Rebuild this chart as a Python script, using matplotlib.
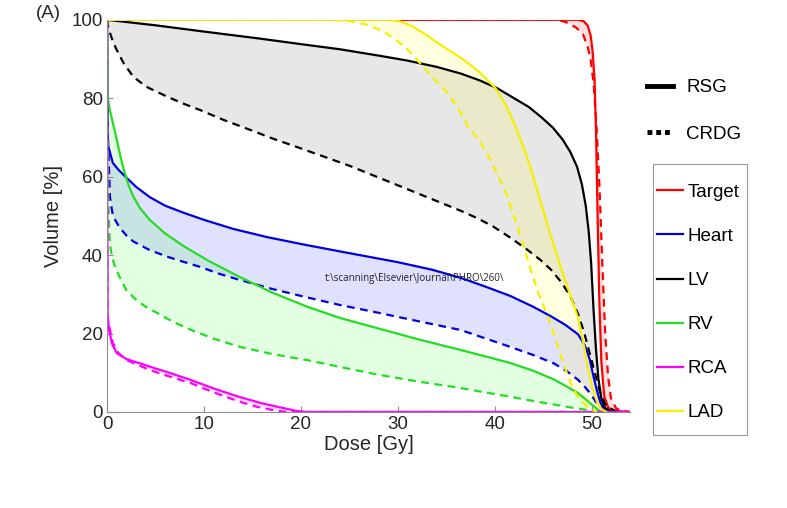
import matplotlib.pyplot as plt
from matplotlib.lines import Line2D
from matplotlib.patches import Rectangle
import numpy as np

plt.rcParams['font.family'] = ['Liberation Sans', 'DejaVu Sans']

# DVH data: dose [Gy], volume [%]
# solid = RSG, dashed = CRDG
target_d = [0, 48.6, 49.2, 49.6, 49.9, 50.1, 50.3, 50.45, 50.6, 50.8, 51, 51.3, 51.7, 52.2, 54]
target_v = [100, 100, 99.6, 98.5, 96, 92, 85, 72, 52, 28, 13, 4, 1.2, 0.3, 0]
target_d2 = [0, 46, 46.8, 47.6, 48.4, 49.1, 49.6, 49.9, 50.2, 50.5, 50.8, 51.1, 51.4, 51.7, 52, 52.5, 53, 54]
target_v2 = [100, 100, 99.8, 99.2, 98, 96.4, 93, 89.8, 84, 73, 58, 38, 20, 9, 3.5, 1, 0.3, 0]

heart_d = [0, 0.05, 0.1, 0.6, 1.2, 1.9, 3, 4.4, 6, 7.9, 10, 13, 16.5, 20.5, 25, 30, 33.5, 36.5,
           39, 41.6, 44, 45.8, 47.3, 48.6, 49.3, 49.8, 50.2, 50.6, 50.9, 51.2, 51.6]
heart_v = [100, 80, 68, 63.5, 61.7, 60, 57.4, 54.8, 52.6, 50.8, 49, 46.7, 44.6, 42.6, 40.5, 38.2, 36.3, 34.2,
           32, 29.6, 26.8, 24.4, 22.2, 19.8, 17, 13.5, 9, 5, 2.5, 1, 0]
heart_d2 = [0, 0.1, 0.3, 0.6, 1.3, 2, 2.7, 4.3, 6.2, 8, 9.6, 11.5, 13.5, 17, 20.5, 24, 28, 32, 36.5,
            39, 41.6, 44, 46.1, 47.5, 48.6, 49.3, 49.9, 50.4, 50.9, 51.6]
heart_v2 = [100, 70, 54.8, 50, 47, 45, 43.5, 41.4, 39.6, 38.2, 37, 35.3, 33.8, 31.4, 29.3, 27.3, 25.3, 23.2, 20.9,
            18.8, 16.6, 14.5, 12.4, 10.3, 8.2, 6.4, 4.6, 2.7, 1.2, 0]

lv_d = [0, 5, 10, 15.8, 20, 24, 28.2, 31, 34, 36.5, 38.5, 40.3, 42, 43.5, 44.8, 46, 47, 47.8, 48.5,
        49, 49.4, 49.7, 49.95, 50.2, 50.45, 50.7, 51, 51.4, 52, 52.5]
lv_v = [100, 98.6, 97, 95.2, 93.8, 92.5, 90.8, 89.6, 88, 86.3, 84.5, 82.5, 80, 77.8, 75.2, 72.5, 69.5, 66.3, 62.5,
        58, 52.5, 46, 38, 26, 16, 8.5, 3.5, 1, 0.2, 0]
lv_d2 = [0, 0.1, 0.3, 0.6, 1, 1.7, 2.7, 4, 6.2, 8, 9.6, 12, 14.8, 17, 19.9, 22.5, 25, 27.5, 30, 33,
         36.5, 38.3, 39.9, 41.7, 43.4, 44.7, 45.8, 46.9, 47.8, 48.6, 49.2, 49.8, 50.2, 50.6, 50.9, 51.4,
         52.3, 53]
lv_v2 = [100, 98.5, 96.7, 94.5, 92.3, 89, 85.5, 83, 80.4, 78.5, 77, 74.5, 71.9, 69.8, 67.3, 65, 62.8, 60.3, 57.8, 54.8,
         51.3, 49.3, 47.2, 44.3, 41.3, 38.8, 36.3, 33, 29.5, 25, 20.5, 15, 11.2, 7.5, 4.8, 2,
         0.4, 0]

rv_d = [0, 0.1, 0.3, 0.6, 1, 1.4, 1.7, 2.2, 2.7, 3.4, 4.4, 6, 7.9, 10.5, 13.4, 17, 20.7, 24, 28, 32,
        36.5, 39, 41.6, 44, 46.1, 47.5, 48.6, 49.5, 50.2, 50.7, 51]
rv_v = [100, 79.6, 77, 73.7, 69.5, 65, 62, 58, 55, 52, 49, 45.5, 42.3, 38.5, 34.8, 30.5, 26.8, 24, 21.3, 18.6,
        15.8, 14.2, 12.5, 10.5, 8.3, 6.4, 4.8, 3, 1.5, 0.5, 0]
rv_d2 = [0, 0.1, 0.2, 0.3, 0.5, 0.9, 1.3, 2, 3, 4, 5.2, 6.8, 8.6, 11, 13.7, 17, 20.7, 24, 28, 32,
         36.5, 39, 41.6, 44, 46.1, 48, 49.6, 50.5]
rv_v2 = [100, 60, 48, 43, 39.5, 36.5, 34.4, 31, 28.6, 26.8, 25.2, 23, 21, 18.7, 16.6, 14.8, 13.2, 11.5, 9.5, 7.8,
         6.1, 5, 3.9, 2.8, 1.9, 1.1, 0.5, 0]

rca_d = [0, 0.05, 0.2, 0.5, 1, 2, 3.4, 5, 6.8, 8.6, 11, 13.7, 16, 18, 19.5, 20.5, 54]
rca_v = [100, 25.3, 21, 17.5, 15, 13.5, 12.4, 11.1, 9.7, 8.2, 6, 3.8, 2.2, 1.1, 0.3, 0, 0]
rca_d2 = [0, 0.05, 0.3, 0.6, 1.2, 2, 2.7, 4.5, 6.5, 8.6, 11, 13.7, 15.5, 17.1, 18.5, 54]
rca_v2 = [100, 24, 21, 17.6, 15, 13.3, 12.5, 10.6, 9, 7.4, 5, 2.6, 1.3, 0.5, 0, 0]

lad_d = [0, 29, 30.2, 31.3, 32.6, 34.5, 36.8, 38.5, 40.1, 41.2, 42.2, 43.2, 44.1, 45, 45.9, 46.8,
         47.7, 48.6, 49.2, 49.6, 50.1, 50.6, 51, 51.5]
lad_v = [100, 100, 99.6, 98.6, 96.7, 93.5, 89.8, 86.5, 82.5, 78, 72.5, 66, 59, 51.5, 44, 37,
         30.5, 24, 17, 11.5, 6, 2.3, 0.8, 0]
lad_d2 = [0, 23, 25, 26.7, 28.2, 29.5, 30.5, 31.6, 32.6, 33.8, 35.1, 36.2, 37.2, 38.3, 39.3, 40.3,
          41.3, 42.3, 43.4, 44.4, 45.5, 46.2, 46.8, 47.5, 48.1, 48.8, 49.6, 50.5]
lad_v2 = [100, 100, 99.7, 98.8, 97.4, 95.5, 93.5, 91, 88, 84.8, 81.4, 77.5, 73, 69.5, 65.5, 60.5,
          55, 47.5, 38.8, 31, 24.2, 19, 14.5, 9.5, 5.8, 3, 1.2, 0]

structures = ['Target', 'Heart', 'LV', 'RV', 'RCA', 'LAD']
colours = ['#ff0000', '#0000e0', '#000000', '#22dd22', '#ff00ff', '#f5f000']
fill_colours = ['#ff3030', '#3030ff', '#606060', '#40ff40', '#ff40ff', '#ffff30']
solid = [(target_d, target_v), (heart_d, heart_v), (lv_d, lv_v),
         (rv_d, rv_v), (rca_d, rca_v), (lad_d, lad_v)]
dashed = [(target_d2, target_v2), (heart_d2, heart_v2), (lv_d2, lv_v2),
          (rv_d2, rv_v2), (rca_d2, rca_v2), (lad_d2, lad_v2)]

fig = plt.figure(figsize=(7.87, 5.08), dpi=100)
ax = fig.add_axes([0.136, 0.189, 0.665, 0.772])

#Shaded region between RSG and CRDG
for (d1, v1), (d2, v2), fc in zip(solid, dashed, fill_colours):
    px = np.concatenate([d1, d2[::-1]])
    py = np.concatenate([v1, v2[::-1]])
    ax.fill(px, py, color=fc, alpha=0.15, lw=0)

for i in range(len(structures)):
    ax.plot(*dashed[i], color=colours[i], lw=1.6, linestyle=(0, (3.5, 2.5)))
    ax.plot(*solid[i], color=colours[i], lw=1.6)

ax.text(22.5, 34, 't:\\scanning\\Elsevier\\Journal\\PHRO\\260\\', fontsize=7,
        color='#222222', va='center', family=['Open Sans', 'DejaVu Sans'])

#Format axes
ax.set_xlim(0, 54)
ax.set_ylim(0, 100)
ax.set_xticks(np.arange(0, 51, 10))
ax.set_yticks(np.arange(0, 101, 20))
for s in ['top', 'right']:
    ax.spines[s].set_visible(False)
for s in ['left', 'bottom']:
    ax.spines[s].set_color('#8c8c8c')
    ax.spines[s].set_linewidth(0.8)
ax.tick_params(direction='in', length=4, color='#8c8c8c', labelsize=13.5,
               labelcolor='#262626', pad=3)
ax.set_xlabel('Dose [Gy]', fontsize=14.5, color='#262626', labelpad=1)
ax.set_ylabel('Volume [%]', fontsize=14.5, color='#262626', labelpad=6)
fig.text(0.046, 0.99, '(A)', fontsize=13.5, color='#262626', va='top')

#Line style legend
style_handles = [Line2D([], [], color='k', lw=3.5),
                 Line2D([], [], color='k', lw=3.5, linestyle=(0, (1, 0.8)))]
leg1 = fig.legend(style_handles, ['RSG', 'CRDG'], loc='upper left',
                  bbox_to_anchor=(0.822, 0.844), frameon=False, fontsize=13.5,
                  handlelength=1.4, handletextpad=0.7, labelspacing=1.57,
                  borderpad=0, borderaxespad=0)

#Structure legend
struct_handles = [Line2D([], [], color=c, lw=1.6) for c in colours]
leg2 = fig.legend(struct_handles, structures, loc='upper left',
                  bbox_to_anchor=(0.835, 0.638), fontsize=13.5,
                  handlelength=1.4, handletextpad=0.2, labelspacing=1.435,
                  borderpad=0, borderaxespad=0, frameon=False)
fig.patches.append(Rectangle((653 / 787, 73 / 508), 94 / 787, 271 / 508,
                             transform=fig.transFigure, fill=False,
                             edgecolor='#999999', lw=0.8))

fig.savefig('out.png', dpi=100)
